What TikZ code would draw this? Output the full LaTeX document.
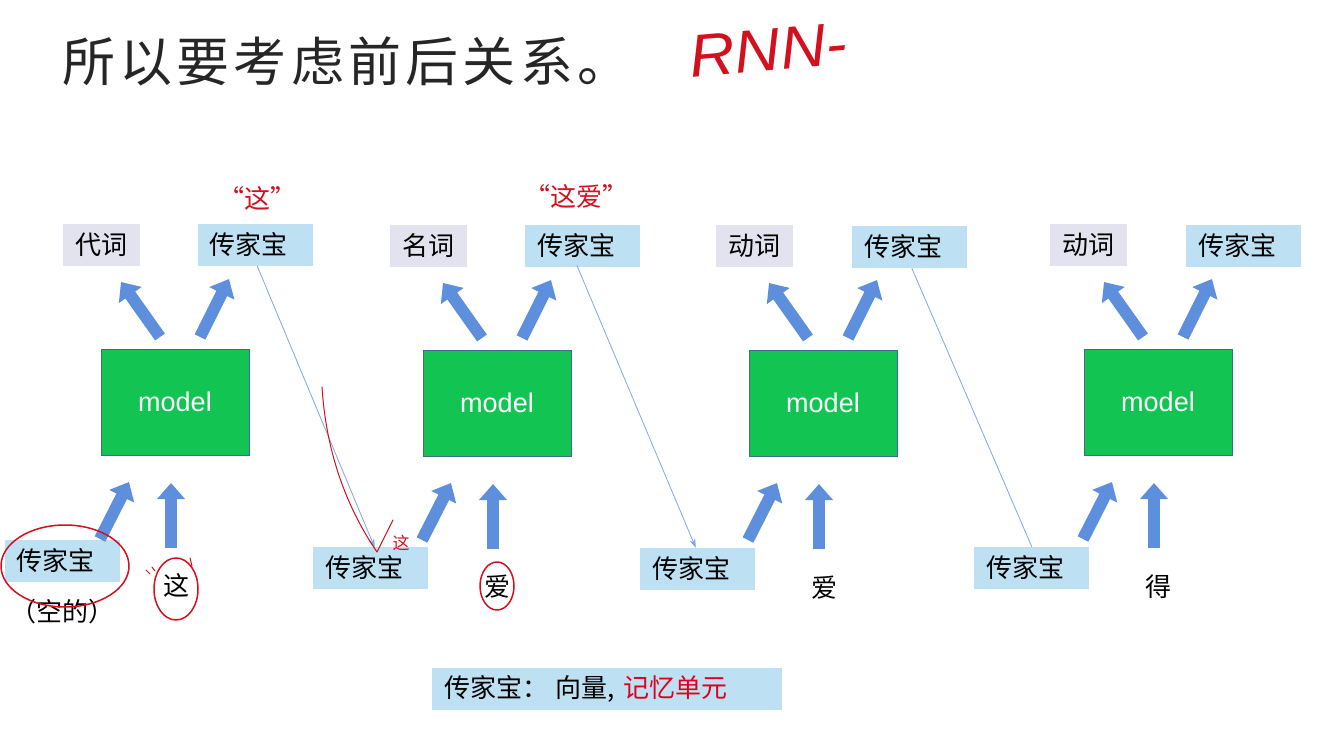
\documentclass[tikz,border=0pt]{standalone}
\usepackage{fontspec}
\setmainfont{Liberation Sans}
\newfontfamily\cjk{Noto Sans CJK SC}
\newfontfamily\cjktitle[LetterSpace=8]{Noto Sans CJK SC}
\usetikzlibrary{arrows.meta,calc}
\definecolor{lav}{HTML}{E3E3F0}
\definecolor{lblue}{HTML}{BDE1F2}
\definecolor{mgreen}{HTML}{12C553}
\definecolor{mborder}{HTML}{3F6B8C}
\definecolor{ablue}{HTML}{5E8FDC}
\definecolor{lineblue}{HTML}{7FA8E0}
\definecolor{hred}{HTML}{D2101E}
\definecolor{tred}{HTML}{E0001E}
\begin{document}
\begin{tikzpicture}[x=1pt,y=-1pt,
  lab/.style={inner xsep=12pt, inner ysep=0pt, minimum height=42pt, align=left,
    font=\cjk\fontsize{26}{26}\selectfont},
  word/.style={lab, fill=lav, text width=53pt},
  bao/.style={lab, fill=lblue, text width=91pt},
  modelbox/.style={fill=mgreen, draw=mborder, line width=0.8pt, minimum width=148pt,
    minimum height=106pt, inner sep=0pt, text=white, font=\fontsize{27}{27}\selectfont},
  inword/.style={inner sep=0pt, font=\cjk\fontsize{26}{26}\selectfont},
  barrow/.style={ablue, line width=12pt, -{Triangle[width=27pt,length=16pt]}},
  thin/.style={lineblue, line width=0.8pt},
  thinarrow/.style={thin, -{Stealth[length=9pt,width=6pt]}},
  hand/.style={hred, line width=1.5pt, line cap=round, line join=round},
  handtext/.style={text=hred, inner sep=0pt},
]
\useasboundingbox[fill=white] (0,0) rectangle (1319,735);

% title
\node[anchor=base west, inner sep=0pt, font=\cjktitle\fontsize{53}{53}\selectfont, text=black!85]
  (title) at (62,82) {所以要考虑前后关系。};
\node[handtext, font=\itshape\fontsize{60}{60}\selectfont, rotate=5, xscale=1.05] (rnn) at (768,50) {RNN-};

% group 1
\node[word] (w1) at (101.5,245) {代词};
\node[bao]  (t1) at (255,245) {传家宝};
\node[modelbox] (m1) at (175,402) {model};
\node[bao]  (b1) at (62,561) {传家宝};
\node[inword] (i1) at (176,585) {这};
\node[inword] (k1) at (62,612) {（空的）};

% group 2
\node[word] (w2) at (428.5,246) {名词};
\node[bao]  (t2) at (582.5,246) {传家宝};
\node[modelbox] (m2) at (497,403) {model};
\node[bao]  (b2) at (370.5,568) {传家宝};
\node[inword] (i2) at (497,587) {爱};

% group 3
\node[word] (w3) at (754.5,246) {动词};
\node[bao]  (t3) at (909.5,247) {传家宝};
\node[modelbox] (m3) at (823,403) {model};
\node[bao]  (b3) at (697.5,569) {传家宝};
\node[inword] (i3) at (824,588) {爱};

% group 4
\node[word] (w4) at (1088.5,245) {动词};
\node[bao]  (t4) at (1243.5,246) {传家宝};
\node[modelbox] (m4) at (1158,402) {model};
\node[bao]  (b4) at (1031.5,568) {传家宝};
\node[inword] (i4) at (1158,587) {得};

% block arrows
\foreach \m in {m1,m2,m3,m4}{
  \coordinate (\m-ula) at ($(\m)+(-15,-65)$);
  \coordinate (\m-ulb) at ($(\m)+(-54,-120)$);
  \coordinate (\m-ura) at ($(\m)+(25,-65)$);
  \coordinate (\m-urb) at ($(\m)+(54,-123)$);
  \coordinate (\m-dla) at ($(\m)+(-75,137)$);
  \coordinate (\m-dlb) at ($(\m)+(-46,80)$);
  \coordinate (\m-dva) at ($(\m)+(-4,146)$);
  \coordinate (\m-dvb) at ($(\m)+(-4,81)$);
  \draw[barrow] (\m-ula) -- (\m-ulb);
  \draw[barrow] (\m-ura) -- (\m-urb);
  \draw[barrow] (\m-dla) -- (\m-dlb);
  \draw[barrow] (\m-dva) -- (\m-dvb);
}

% state passing lines
\draw[thinarrow] ($(t1.south west)+(60,0)$) -- ($(b2.north west)+(62,1)$);
\draw[thinarrow] ($(t2.south west)+(52,-2)$) -- ($(b3.north west)+(56,0)$);
\draw[thin] ($(t3.south west)+(60,0)$) -- ($(b4.north west)+(58,0)$);

% legend
\node[lab, fill=lblue, text width=326pt] (legend) at (607,689)
  {传家宝：\hspace{8pt}向量,\hspace{8pt}\textcolor{tred}{记忆单元}};

% handwritten annotations
\draw[hand] (65,566) ellipse [x radius=64, y radius=41];
\draw[hand] (176,589) ellipse [x radius=22, y radius=31];
\draw[hand] (497,586) ellipse [x radius=17, y radius=24];
\draw[hand, line width=1pt] (322,387) .. controls (326,450) and (345,505) .. (377,552) -- (393,520);
\node[handtext, font=\cjk\fontsize{17}{17}\selectfont] (h3) at (401,543) {这};
\node[handtext, font=\cjk\fontsize{26}{26}\selectfont] (h1) at (257,198) {“这”};
\node[handtext, font=\cjk\fontsize{26}{26}\selectfont] (h2) at (576,196) {“这爱”};
\draw[hand, line width=1pt] (146,570) -- (150,574) (152,567) -- (155,571) (190,558) -- (192,566);
\end{tikzpicture}
\end{document}
